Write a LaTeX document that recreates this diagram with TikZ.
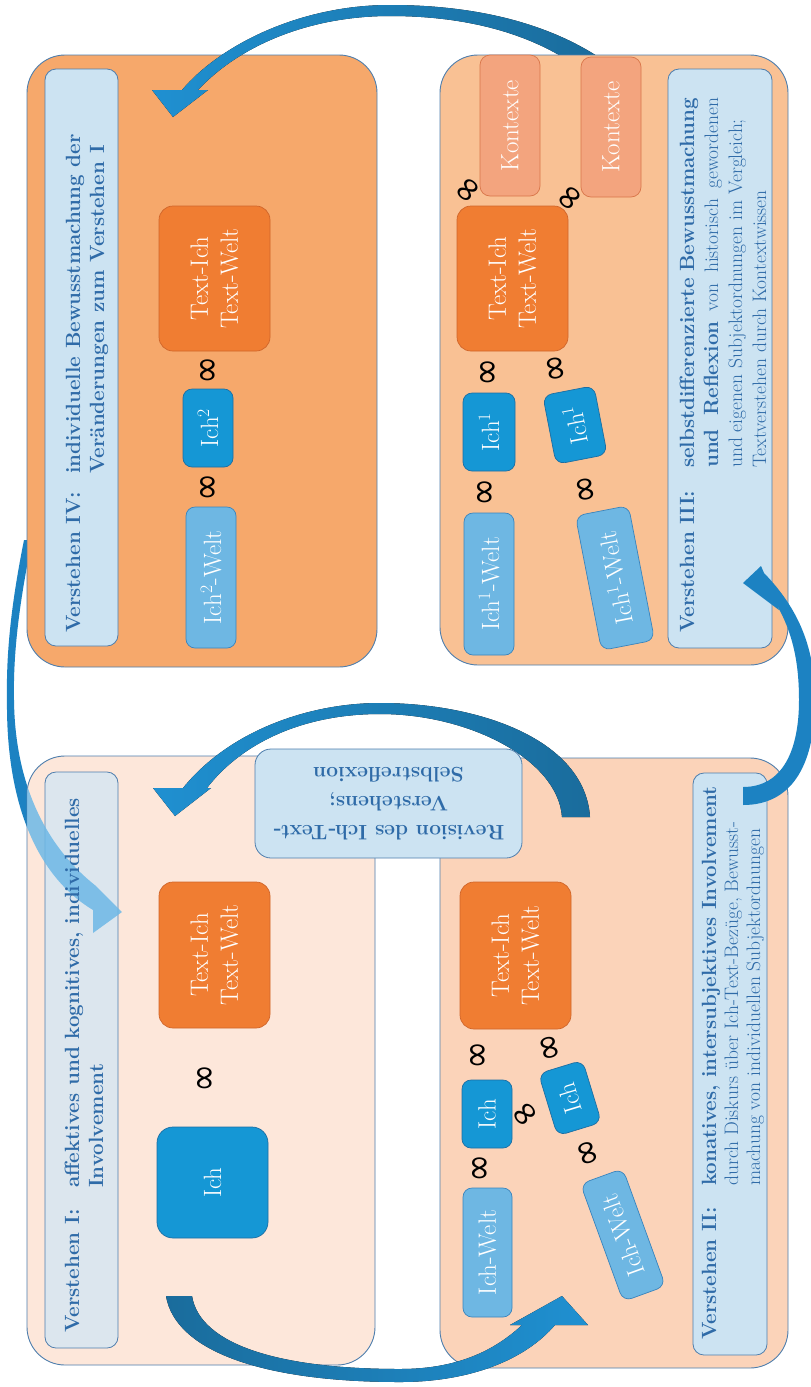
\documentclass[tikz,border=0pt]{standalone}
\usepackage{fontspec}
\usepackage{graphicx}
\newfontfamily\djv{DejaVu Sans}
\definecolor{pIVc}{HTML}{F6A86B}
\definecolor{pIIIc}{HTML}{F9C194}
\definecolor{pIIc}{HTML}{FBD3B9}
\definecolor{pIc}{HTML}{FDE7DA}
\definecolor{pborder}{HTML}{4E7EAD}
\definecolor{lblue}{HTML}{CCE3F2}
\definecolor{lgrey}{HTML}{DCE6EE}
\definecolor{ltext}{HTML}{2F6BA8}
\definecolor{orng}{HTML}{F07D32}
\definecolor{orngb}{HTML}{D0652A}
\definecolor{ichc}{HTML}{1597D5}
\definecolor{ichb}{HTML}{1C6EA3}
\definecolor{welt}{HTML}{6EB7E3}
\definecolor{weltb}{HTML}{3A84BD}
\definecolor{kont}{HTML}{F3A47E}
\definecolor{kontb}{HTML}{D9764A}
\definecolor{abright}{HTML}{1F90D1}
\definecolor{adark}{HTML}{1A6C9C}
\definecolor{amid}{HTML}{1C82C2}
\definecolor{alight}{HTML}{6DB8E6}
\newcommand{\infsym}{\scalebox{1}[1.15]{\djv ∞}}
\begin{document}
\begin{tikzpicture}[x=1pt,y=-1pt,
 panel/.style={draw=pborder,line width=0.9pt,rounded corners=38pt,inner sep=0pt},
 lblbox/.style={draw=pborder,line width=0.8pt,rounded corners=11pt,fill=lblue,inner sep=0pt},
 tbox/.style={inner sep=0pt,text=white,align=center,font=\fontsize{25}{30}\selectfont,line width=0.7pt},
 orbox/.style={tbox,fill=orng,draw=orngb,rounded corners=14pt},
 ichbox/.style={tbox,fill=ichc,draw=ichb,rounded corners=9pt},
 weltbox/.style={tbox,fill=welt,draw=weltb,rounded corners=9pt},
 kbox/.style={tbox,fill=kont,draw=kontb,rounded corners=10pt},
 inf/.style={inner sep=0pt,font=\fontsize{34}{34}\selectfont},
 lhead/.style={inner sep=0pt,rotate=90,anchor=base west,text=ltext,font=\fontsize{20.6}{24}\selectfont\bfseries},
 lsmall/.style={inner sep=0pt,rotate=90,anchor=base west,text=ltext,font=\fontsize{19.5}{22}\selectfont},
]
\useasboundingbox (0,0) rectangle (811,1387);
\fill[white] (0,0) rectangle (811,1387);

% ---- left arc (IV -> I), dark part
\fill[amid] (24,540) .. controls (12,600) and (6,650) .. (7,700) .. controls (6,800) and (35,875) .. (93,910) -- (93,933) -- (122,912) -- (96,886) .. controls (50,850) and (15,790) .. (14,700) .. controls (13,650) and (20,600) .. (32,540) -- cycle;

% ---- Panel IV
\node[panel,fill=pIVc,minimum width=350pt,minimum height=612pt] (panelIV) at (202,361) {};
\node[lblbox,minimum width=73pt,minimum height=577pt] (lblIV) at (81.5,357.5) {};
\node[lhead] (hIV) at (80,633) {Verstehen IV:};
\node[lhead] (bIVa) at (80,474) {individuelle Bewusstmachung der};
\node[lhead] (bIVb) at (104,474) {Veränderungen zum Verstehen I};
\node[orbox,rotate=90,minimum width=145pt,minimum height=111pt] (tiIV) at (214.5,278.5) {Text-Ich\\Text-Welt};
\node[ichbox,rotate=90,minimum width=78pt,minimum height=50pt] (ichIV) at (208,428) {Ich\textsuperscript{2}};
\node[weltbox,rotate=90,minimum width=141pt,minimum height=50pt] (weltIV) at (211,577.5) {Ich\textsuperscript{2}-Welt};
\node[inf,rotate=90] (infIVa) at (210,370) {\infsym};
\node[inf,rotate=90] (infIVb) at (210,487) {\infsym};

% ---- top arc (III -> IV)
\fill[left color=abright,right color=adark] (600,58) .. controls (550,25) and (480,5) .. (390,5) .. controls (300,5) and (220,45) .. (182,90) -- (152,90) -- (173,117) -- (208,90) -- (198,90) .. controls (240,45) and (310,16) .. (390,16) .. controls (470,16) and (535,35) .. (582,70) -- cycle;

% ---- Panel III
\node[panel,fill=pIIIc,minimum width=348pt,minimum height=610pt] (panelIII) at (614,360) {};
\node[lblbox,minimum width=104pt,minimum height=579pt] (lblIII) at (720,358.5) {};
\node[kbox,rotate=90,minimum width=141pt,minimum height=60pt] (konA) at (510,125.5) {Kontexte};
\node[kbox,rotate=90,minimum width=140pt,minimum height=60pt] (konB) at (611,127) {Kontexte};
\node[orbox,rotate=90,minimum width=145pt,minimum height=111pt] (tiIII) at (512.5,278.5) {Text-Ich\\Text-Welt};
\node[ichbox,rotate=90,minimum width=78pt,minimum height=52pt] (ichIIIa) at (489,432) {Ich\textsuperscript{1}};
\node[ichbox,rotate=101,minimum width=70pt,minimum height=52pt] (ichIIIb) at (575,425) {Ich\textsuperscript{1}};
\node[weltbox,rotate=90,minimum width=142pt,minimum height=50pt] (weltIIIa) at (489,584) {Ich\textsuperscript{1}-Welt};
\node[weltbox,rotate=101,minimum width=137pt,minimum height=54pt] (weltIIIb) at (615,578) {Ich\textsuperscript{1}-Welt};
\node[inf,rotate=52] (infIIIa) at (470,191) {\infsym};
\node[inf,rotate=52] (infIIIb) at (572,199) {\infsym};
\node[inf,rotate=90] (infIIIc) at (490,372) {\infsym};
\node[inf,rotate=100] (infIIId) at (558,368) {\infsym};
\node[inf,rotate=90] (infIIIe) at (487,492) {\infsym};
\node[inf,rotate=100] (infIIIf) at (588,489) {\infsym};
\node[lhead] (hIII) at (694,633) {Verstehen III:};
\node[lhead] (bIIIa) at (694,468) {\makebox[370pt][s]{selbstdifferenzierte Bewusstmachung}};
\node[lsmall] (bIIIb) at (718,468) {\makebox[370pt][s]{{\fontsize{20.6}{24}\selectfont\bfseries und Reflexion} von historisch gewordenen}};
\node[lsmall] (bIIIc) at (742,468) {und eigenen Subjektordnungen im Vergleich;};
\node[lsmall] (bIIId) at (766,468) {Textverstehen durch Kontextwissen};

% ---- Panel I
\node[panel,fill=pIc,minimum width=348pt,minimum height=609pt] (panelI) at (201,1060.5) {};
\node[lblbox,fill=lgrey,minimum width=73pt,minimum height=576pt] (lblI) at (81.5,1060) {};
\begin{scope}
\clip[rounded corners=38pt] (27,756) rectangle (375,1365);
\fill[alight,fill opacity=0.85] (24,540) .. controls (12,600) and (6,650) .. (7,700) .. controls (6,800) and (35,875) .. (93,910) -- (93,933) -- (122,912) -- (96,886) .. controls (50,850) and (15,790) .. (14,700) .. controls (13,650) and (20,600) .. (32,540) -- cycle;
\end{scope}
\node[lhead] (hI) at (79,1333) {Verstehen I:};
\node[lhead] (bIa) at (79,1188) {affektives und kognitives, individuelles};
\node[lhead] (bIb) at (103,1188) {Involvement};
\node[orbox,rotate=90,minimum width=146pt,minimum height=111pt] (tiI) at (214.5,955) {Text-Ich\\Text-Welt};
\node[ichbox,rotate=90,minimum width=111pt,minimum height=111pt,rounded corners=16pt] (ichI) at (212.5,1182.5) {Ich};
\node[inf,rotate=90] (infI) at (207,1078) {\infsym};

% ---- Panel II
\node[panel,fill=pIIc,minimum width=348pt,minimum height=610pt] (panelII) at (614,1063) {};
\node[lblbox,minimum width=74pt,minimum height=582pt] (lblII) at (730,1064) {};
\node[orbox,rotate=90,minimum width=147pt,minimum height=111pt] (tiII) at (515.5,955.5) {Text-Ich\\Text-Welt};
\node[ichbox,rotate=90,minimum width=68pt,minimum height=50pt] (ichIIa) at (487,1114) {Ich};
\node[ichbox,rotate=107,minimum width=65pt,minimum height=46pt] (ichIIb) at (570,1098) {Ich};
\node[weltbox,rotate=90,minimum width=129pt,minimum height=49pt] (weltIIa) at (487.5,1252.5) {Ich-Welt};
\node[weltbox,rotate=110,minimum width=125pt,minimum height=45pt] (weltIIb) at (623,1235) {Ich-Welt};
\node[inf,rotate=90] (infIIa) at (480,1055) {\infsym};
\node[inf,rotate=105] (infIIb) at (552,1047) {\infsym};
\node[inf,rotate=42] (infIIc) at (527,1116) {\infsym};
\node[inf,rotate=90] (infIId) at (482,1168) {\infsym};
\node[inf,rotate=110] (infIIe) at (590,1152) {\infsym};
\node[lhead] (hII) at (716,1340) {Verstehen II:};
\node[lhead] (bIIa) at (716,1186) {konatives, intersubjektives Involvement};
\node[lsmall] (bIIb) at (738,1186) {durch Diskurs über Ich-Text-Bezüge, Bewusst-};
\node[lsmall] (bIIc) at (760,1186) {machung von individuellen Subjektordnungen};

% ---- Revision arrow and box
\fill[left color=abright,right color=adark] (590,817) .. controls (585,740) and (480,703) .. (380,703) .. controls (310,703) and (230,730) .. (183,788) -- (153,788) -- (175,816) -- (211,788) -- (207,788) .. controls (240,745) and (300,714) .. (380,714) .. controls (470,714) and (558,760) .. (562,817) -- cycle;
\node[draw=pborder,fill=lblue,rounded corners=16pt,line width=0.8pt,minimum width=267pt,minimum height=109pt,rotate=180,align=center,text=ltext,font=\fontsize{21}{29}\selectfont\bfseries,inner sep=0pt] (rev) at (388.5,803.5) {Revision des Ich-Text-\\Verstehens;\\Selbstreflexion};

% ---- bottom arrow (I -> II)
\fill[left color=adark,right color=abright] (166,1296) .. controls (175,1350) and (260,1382) .. (400,1382) .. controls (470,1382) and (525,1360) .. (555,1325) -- (588,1325) -- (562,1296) -- (510,1325) -- (522,1325) .. controls (490,1355) and (450,1369) .. (400,1369) .. controls (280,1369) and (200,1345) .. (192,1296) -- cycle;

% ---- right arc (II -> III)
\fill[amid] (743,805) .. controls (795,805) and (815,760) .. (815,700) .. controls (815,650) and (800,610) .. (764,573) -- (761,566) -- (743,583) -- (779,610) -- (774,600) .. controls (792,630) and (799,660) .. (799,700) .. controls (799,750) and (783,787) .. (743,787) -- cycle;
\end{tikzpicture}
\end{document}
